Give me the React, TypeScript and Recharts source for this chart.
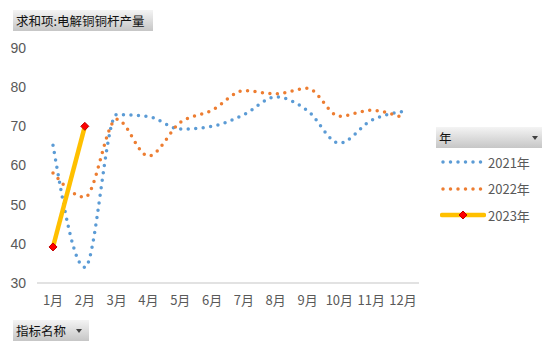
import React from "react";
import { LineChart, Line, XAxis, YAxis } from "recharts";

const months = ["1月", "2月", "3月", "4月", "5月", "6月", "7月", "8月", "9月", "10月", "11月", "12月"];
const y2021 = [65.2, 34.0, 73.0, 72.5, 69.3, 70.0, 73.0, 77.5, 74.0, 65.7, 71.5, 73.8];
const y2022 = [58.1, 51.9, 71.8, 62.4, 71.0, 74.1, 79.1, 78.3, 79.7, 72.6, 74.1, 72.2];
const y2023: (number | null)[] = [39.2, 70.0, null, null, null, null, null, null, null, null, null, null];
const yTicks = [30, 40, 50, 60, 70, 80, 90];
const seriesNames = ["2021年", "2022年", "2023年"];

const data = months.map((m, i) => ({ m, a: y2021[i], b: y2022[i], c: y2023[i] }));

const FONT = "'Liberation Sans', 'Noto Sans CJK SC', sans-serif";
const CJK = "'Noto Sans CJK SC', sans-serif";

const btn: React.CSSProperties = {
  position: "absolute",
  background: "linear-gradient(#f4f4f4, #c6c6c6)",
  fontFamily: CJK,
  fontSize: 12.5,
  color: "#111",
  lineHeight: "21px",
  height: 21,
  boxSizing: "border-box",
  paddingLeft: 3,
};

const arrow: React.CSSProperties = {
  position: "absolute",
  right: 7,
  top: 9,
  width: 0,
  height: 0,
  borderLeft: "3.5px solid transparent",
  borderRight: "3.5px solid transparent",
  borderTop: "4px solid #404040",
};

const Diamond = (props: any) => {
  const { cx, cy } = props;
  if (cx == null || cy == null) return null;
  const r = 4;
  return (
    <path
      key={props.index}
      d={`M${cx},${cy - r}L${cx + r},${cy}L${cx},${cy + r}L${cx - r},${cy}Z`}
      fill="#FF0000"
      stroke="#C00000"
      strokeWidth={1}
    />
  );
};

const LegendBox = () => {
  const items = [
    { label: seriesNames[0], color: "#5B9BD5", kind: "dot" },
    { label: seriesNames[1], color: "#ED7D31", kind: "dot" },
    { label: seriesNames[2], color: "#FFC000", kind: "solid" },
  ];
  return (
    <div style={{ position: "absolute", left: 440, top: 149, fontFamily: CJK, fontSize: 13, color: "#595959" }}>
      {items.map((it, i) => (
        <div key={i} style={{ display: "flex", alignItems: "center", height: 26.5 }}>
          <svg width={46} height={10} style={{ marginRight: 2 }}>
            {it.kind === "dot" ? (
              <line x1={3} y1={5} x2={44} y2={5} stroke={it.color} strokeWidth={3.5} strokeLinecap="round" strokeDasharray="0 7.5" />
            ) : (
              <>
                <line x1={2} y1={5} x2={44} y2={5} stroke={it.color} strokeWidth={4.5} strokeLinecap="round" />
                <path d="M23,1L27,5L23,9L19,5Z" fill="#FF0000" stroke="#C00000" strokeWidth={1} />
              </>
            )}
          </svg>
          <span>{it.label}</span>
        </div>
      ))}
    </div>
  );
};

export default function App() {
  return (
    <div style={{ position: "relative", width: 550, height: 353, margin: -8, background: "#fff" }}>
      <LineChart width={550} height={353} data={data} margin={{ top: 48, right: 131, bottom: 40, left: 7 }}>
        <XAxis
          dataKey="m"
          axisLine={{ stroke: "#D9D9D9", strokeWidth: 1.5 }}
          tickLine={false}
          tick={{ fill: "#595959", fontSize: 13, fontFamily: CJK }}
          tickMargin={7}
          interval={0}
          padding={{ left: 16, right: 16 }}
          height={30}
        />
        <YAxis
          domain={[30, 90]}
          ticks={yTicks}
          axisLine={false}
          tickLine={false}
          tick={{ fill: "#595959", fontSize: 14, fontFamily: FONT }}
          tickMargin={5}
          width={30}
        />
        <Line type="monotone" dataKey="a" name={seriesNames[0]} stroke="#5B9BD5" strokeWidth={3.5} strokeLinecap="round" strokeDasharray="0 7.5" dot={false} isAnimationActive={false} />
        <Line type="monotone" dataKey="b" name={seriesNames[1]} stroke="#ED7D31" strokeWidth={3.5} strokeLinecap="round" strokeDasharray="0 7.5" dot={false} isAnimationActive={false} />
        <Line type="linear" dataKey="c" name={seriesNames[2]} stroke="#FFC000" strokeWidth={4.5} dot={<Diamond />} connectNulls={false} isAnimationActive={false} />
      </LineChart>
      <LegendBox />
      <div style={{ ...btn, left: 13, top: 10, width: 140 }}>求和项:电解铜铜杆产量</div>
      <div style={{ ...btn, left: 436, top: 127, width: 109 }}>
        年<span style={arrow} />
      </div>
      <div style={{ ...btn, left: 13, top: 320, width: 76 }}>
        指标名称<span style={arrow} />
      </div>
    </div>
  );
}
